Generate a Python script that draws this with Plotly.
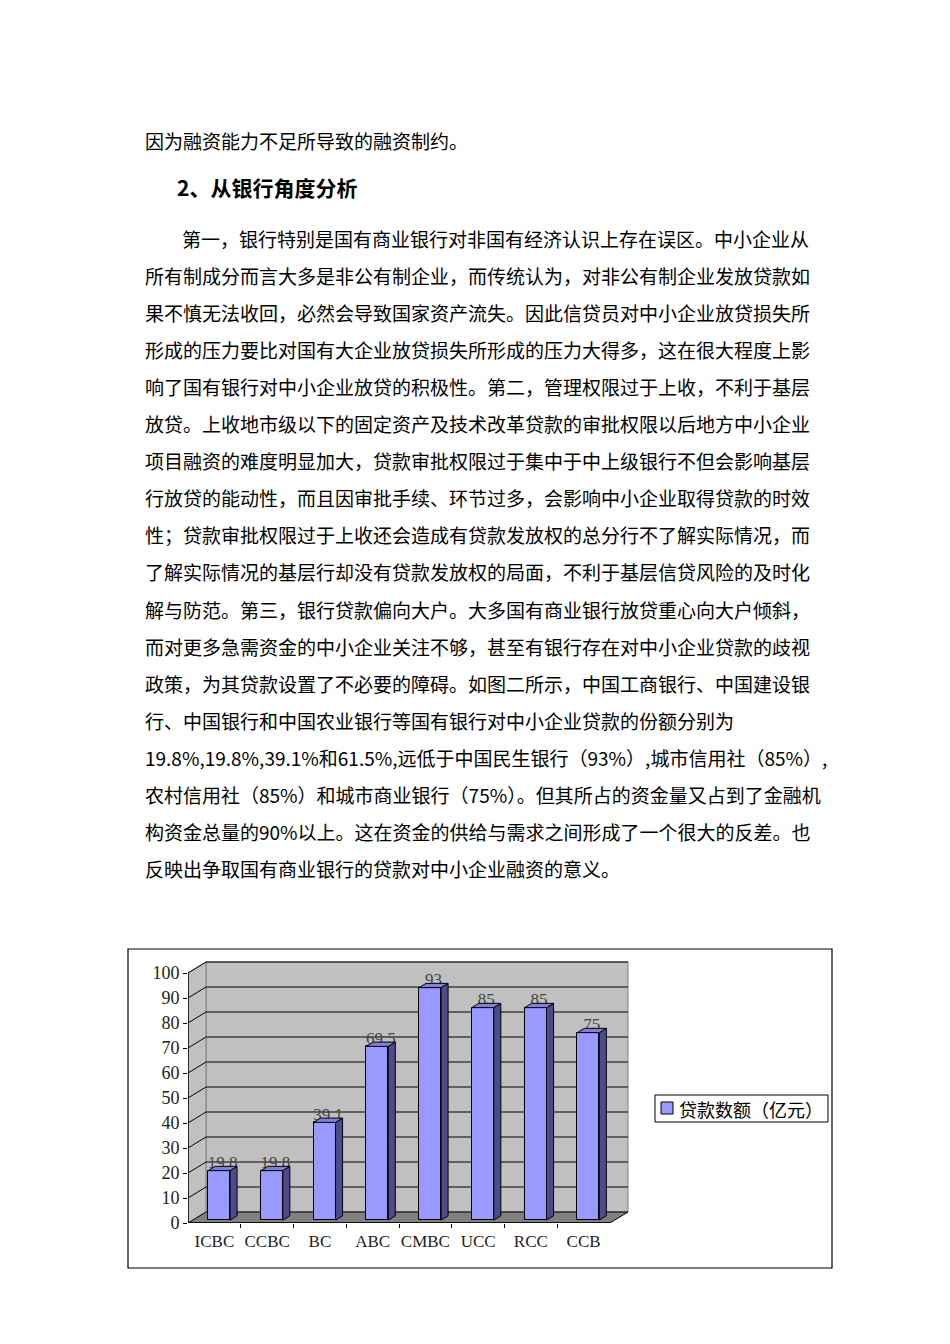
import plotly.graph_objects as go

# chart data
banks = ["ICBC", "CCBC", "BC", "ABC", "CMBC", "UCC", "RCC", "CCB"]
loans = [19.8, 19.8, 39.1, 69.5, 93, 85, 85, 75]
y_ticks = [0, 10, 20, 30, 40, 50, 60, 70, 80, 90, 100]
series_name = "贷款数额（亿元）"

# page text
intro_line = "因为融资能力不足所导致的融资制约。"
heading = "2、从银行角度分析"
body_lines = [
    "第一，银行特别是国有商业银行对非国有经济认识上存在误区。中小企业从",
    "所有制成分而言大多是非公有制企业，而传统认为，对非公有制企业发放贷款如",
    "果不慎无法收回，必然会导致国家资产流失。因此信贷员对中小企业放贷损失所",
    "形成的压力要比对国有大企业放贷损失所形成的压力大得多，这在很大程度上影",
    "响了国有银行对中小企业放贷的积极性。第二，管理权限过于上收，不利于基层",
    "放贷。上收地市级以下的固定资产及技术改革贷款的审批权限以后地方中小企业",
    "项目融资的难度明显加大，贷款审批权限过于集中于中上级银行不但会影响基层",
    "行放贷的能动性，而且因审批手续、环节过多，会影响中小企业取得贷款的时效",
    "性；贷款审批权限过于上收还会造成有贷款发放权的总分行不了解实际情况，而",
    "了解实际情况的基层行却没有贷款发放权的局面，不利于基层信贷风险的及时化",
    "解与防范。第三，银行贷款偏向大户。大多国有商业银行放贷重心向大户倾斜，",
    "而对更多急需资金的中小企业关注不够，甚至有银行存在对中小企业贷款的歧视",
    "政策，为其贷款设置了不必要的障碍。如图二所示，中国工商银行、中国建设银",
    "行、中国银行和中国农业银行等国有银行对中小企业贷款的份额分别为",
    "19.8%,19.8%,39.1%和61.5%,远低于中国民生银行（93%）,城市信用社（85%）,",
    "农村信用社（85%）和城市商业银行（75%）。但其所占的资金量又占到了金融机",
    "构资金总量的90%以上。这在资金的供给与需求之间形成了一个很大的反差。也",
    "反映出争取国有商业银行的贷款对中小企业融资的意义。",
]

CJK = "Noto Sans CJK SC"
SERIF = "Liberation Serif"

# fake 3d geometry (data units)
DX, DY = 0.341, 4.4          # wall depth offset
F0 = 0.26                    # depth of bar front face
FD = 0.39                    # bar depth
BW = 0.417                   # bar width
x_back0, x_back1 = -0.5 + DX, 7.5 + DX


# page pixel -> paper coords (plot area is 441 x 263 px, origin at 188,1223)
def px(x):
    return (x - 188) / 441


def py(y):
    return (1223 - y) / 263


idx = list(range(len(banks)))
base = F0 * DY
shift = F0 * DX
dxd, dyd = FD * DX, FD * DY

fig = go.Figure()

# front faces
fig.add_trace(go.Bar(
    x=[i + shift for i in idx], y=loans, base=base, width=BW,
    marker=dict(color="#9999FF", line=dict(color="black", width=1)),
    name=series_name, showlegend=False, hoverinfo="skip",
))

# value labels (partly hidden behind the bar tops, like the original)
fig.add_trace(go.Scatter(
    x=[i + shift + dxd / 2 for i in idx],
    y=[v + base + dyd + 1.0 for v in loans],
    mode="text", text=[f"{v:g}" for v in loans],
    textfont=dict(family=SERIF, size=17, color="#444444"),
    showlegend=False, cliponaxis=False, hoverinfo="skip",
))

# side and top faces
sx, sy, tx, ty = [], [], [], []
for i, v in zip(idx, loans):
    l = i + shift - BW / 2
    r = i + shift + BW / 2
    top = v + base
    sx += [r, r, r + dxd, r + dxd, r, None]
    sy += [base, top, top + dyd, base + dyd, base, None]
    tx += [l, r, r + dxd, l + dxd, l, None]
    ty += [top, top, top + dyd, top + dyd, top, None]
fig.add_trace(go.Scatter(x=sx, y=sy, mode="lines", fill="toself",
                         fillcolor="#4C4C8C", line=dict(color="black", width=1),
                         showlegend=False, hoverinfo="skip"))
fig.add_trace(go.Scatter(x=tx, y=ty, mode="lines", fill="toself",
                         fillcolor="#8080DC", line=dict(color="black", width=1),
                         showlegend=False, hoverinfo="skip"))

shapes = []
# back wall
shapes.append(dict(type="rect", xref="x", yref="y", x0=x_back0, x1=x_back1,
                   y0=DY, y1=100 + DY, fillcolor="#C0C0C0",
                   line=dict(color="#808080", width=1), layer="below"))
# left wall
shapes.append(dict(type="path", xref="x", yref="y",
                   path=f"M -0.5 0 L -0.5 100 L {x_back0} {100 + DY} L {x_back0} {DY} Z",
                   fillcolor="#C0C0C0", line=dict(color="#808080", width=1), layer="below"))
# floor
shapes.append(dict(type="path", xref="x", yref="y",
                   path=f"M -0.5 0 L 7.5 0 L {x_back1} {DY} L {x_back0} {DY} Z",
                   fillcolor="#808080", line=dict(color="black", width=1), layer="below"))
# gridlines on back and left wall
for t in y_ticks[1:]:
    shapes.append(dict(type="line", xref="x", yref="y", x0=x_back0, x1=x_back1,
                       y0=t + DY, y1=t + DY, line=dict(color="black", width=1), layer="below"))
    shapes.append(dict(type="line", xref="x", yref="y", x0=-0.5, x1=x_back0,
                       y0=t, y1=t + DY, line=dict(color="black", width=1), layer="below"))
# front axis lines
shapes.append(dict(type="line", xref="x", yref="y", x0=-0.5, x1=-0.5, y0=0, y1=100,
                   line=dict(color="black", width=1.5)))
shapes.append(dict(type="line", xref="x", yref="y", x0=-0.5, x1=7.5, y0=0, y1=0,
                   line=dict(color="black", width=1.5)))
# chart frame
shapes.append(dict(type="rect", xref="paper", yref="paper",
                   x0=px(128), x1=px(832), y0=py(1268), y1=py(949),
                   line=dict(color="black", width=1.2), fillcolor="rgba(0,0,0,0)"))
# legend box and key
shapes.append(dict(type="rect", xref="paper", yref="paper",
                   x0=px(655), x1=px(828), y0=py(1122), y1=py(1095),
                   line=dict(color="black", width=1), fillcolor="white"))
shapes.append(dict(type="rect", xref="paper", yref="paper",
                   x0=px(661), x1=px(673), y0=py(1114), y1=py(1102),
                   line=dict(color="black", width=1), fillcolor="#9999FF"))

annotations = []
annotations.append(dict(text=series_name, xref="paper", yref="paper", x=px(677), y=py(1108.5),
                        xanchor="left", yanchor="middle", showarrow=False,
                        font=dict(family=CJK, size=18, color="black")))
annotations.append(dict(text=intro_line, xref="paper", yref="paper", x=px(143), y=py(140),
                        xanchor="left", yanchor="middle", showarrow=False,
                        font=dict(family=CJK, size=19, color="black")))
annotations.append(dict(text=f"<b>{heading}</b>", xref="paper", yref="paper", x=px(175), y=py(187),
                        xanchor="left", yanchor="middle", showarrow=False,
                        font=dict(family=CJK, size=21, color="black")))
for k, line in enumerate(body_lines):
    x0 = 180 if k == 0 else 143
    annotations.append(dict(text=line, xref="paper", yref="paper", x=px(x0), y=py(238 + 37.1 * k),
                            xanchor="left", yanchor="middle", showarrow=False,
                            font=dict(family=CJK, size=19, color="black")))

fig.update_layout(
    template="none",
    width=942, height=1336,
    margin=dict(l=180, r=321, t=952, b=121, pad=0, autoexpand=False),
    paper_bgcolor="white", plot_bgcolor="white",
    bargap=0, showlegend=False,
    xaxis=dict(range=[-0.5, 7.86], tickvals=idx, ticktext=banks, ticks="",
               showgrid=False, zeroline=False, showline=False, automargin=False,
               ticklabelstandoff=6,
               tickfont=dict(family=SERIF, size=17, color="#222222"),
               minor=dict(tickvals=[i + 0.5 for i in idx[:-1]], ticks="outside",
                          ticklen=4, tickcolor="black", showgrid=False)),
    yaxis=dict(range=[0, 105.2], tickvals=y_ticks, ticks="outside", ticklen=4,
               tickcolor="black", showgrid=False, zeroline=False, showline=False,
               automargin=False,
               tickfont=dict(family=SERIF, size=18, color="#222222")),
    shapes=shapes, annotations=annotations,
)

fig.write_html("out.html")
